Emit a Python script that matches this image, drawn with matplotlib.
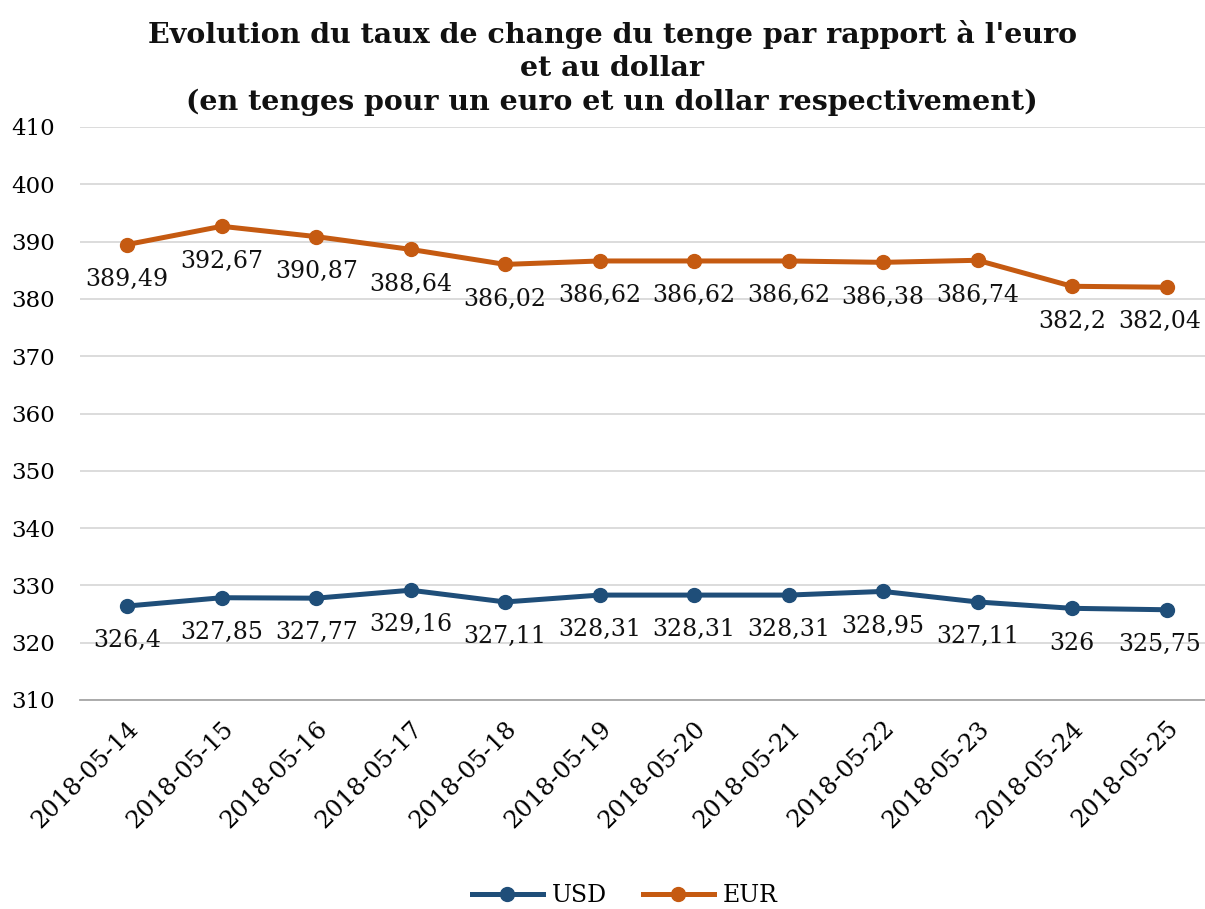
import matplotlib
matplotlib.use("Agg")
import matplotlib.pyplot as plt
from matplotlib.lines import Line2D

dates = ["2018-05-14", "2018-05-15", "2018-05-16", "2018-05-17", "2018-05-18", "2018-05-19",
         "2018-05-20", "2018-05-21", "2018-05-22", "2018-05-23", "2018-05-24", "2018-05-25"]
usd = [326.4, 327.85, 327.77, 329.16, 327.11, 328.31, 328.31, 328.31, 328.95, 327.11, 326, 325.75]
eur = [389.49, 392.67, 390.87, 388.64, 386.02, 386.62, 386.62, 386.62, 386.38, 386.74, 382.2, 382.04]
yticks = [310, 320, 330, 340, 350, 360, 370, 380, 390, 400, 410]
title = ("Evolution du taux de change du tenge par rapport à l'euro\n"
         "et au dollar\n(en tenges pour un euro et un dollar respectivement)")

usd_color = "#1f4e79"
eur_color = "#c55a11"
font = "DejaVu Serif"
plt.rcParams['font.family'] = [font]

W, H = 1205, 909
fig = plt.figure(figsize=(W / 100, H / 100), dpi=100)
left_px, right_px, top_px, bot_px = 80, 1205, 127, 700
ax = fig.add_axes([left_px / W, 1 - bot_px / H, (right_px - left_px) / W, (bot_px - top_px) / H])

x = list(range(len(dates)))
ax.plot(x, usd, color=usd_color, lw=3.6, marker="o", ms=10, solid_capstyle="round", zorder=3)
ax.plot(x, eur, color=eur_color, lw=3.6, marker="o", ms=10, solid_capstyle="round", zorder=3)

def fmt(v):
    s = f"{v:.2f}".rstrip("0").rstrip(".")
    return s.replace(".", ",")

last = len(x) - 1
for series in (usd, eur):
    for xi, v in zip(x, series):
        dx = -5 if xi == last else 0
        ax.annotate(fmt(v), (xi, v), xytext=(dx, -25), textcoords="offset points",
                    ha="center", va="center", fontsize=17, color="#111111", zorder=4)

pitch = 94.5
ax.set_xlim(-0.5, (right_px - 127) / pitch)
ax.set_ylim(310, 410)
ax.set_yticks(yticks)
ax.set_yticklabels([str(t) for t in yticks], fontsize=16.5)
ax.set_xticks(x)
ax.set_xticklabels(dates, rotation=45, ha="right", rotation_mode="anchor", fontsize=17.5)
ax.tick_params(axis="both", length=0)
ax.tick_params(axis="x", pad=12)
ax.tick_params(axis="y", pad=18)

ax.grid(axis="y", color="#d9d9d9", lw=1.3, zorder=0)
ax.set_axisbelow(True)
for s in ["top", "right", "left"]:
    ax.spines[s].set_visible(False)
ax.spines["bottom"].set_color("#a6a6a6")
ax.spines["bottom"].set_linewidth(1.3)
ax.spines["bottom"].set_zorder(1)

fig.text(612 / W, 1 - 20 / H, title, ha="center", va="top", fontsize=20.5, fontweight="bold",
         linespacing=1.3, color="#111111")

handles = [Line2D([0], [0], color=usd_color, lw=3.6, marker="o", ms=10),
           Line2D([0], [0], color=eur_color, lw=3.6, marker="o", ms=10)]
fig.legend(handles, ["USD", "EUR"], loc="center", bbox_to_anchor=(625 / W, 1 - 896 / H),
           ncol=2, frameon=False, fontsize=17, handlelength=3, columnspacing=1.5, handletextpad=0.4)

fig.savefig("out.png", dpi=100)
